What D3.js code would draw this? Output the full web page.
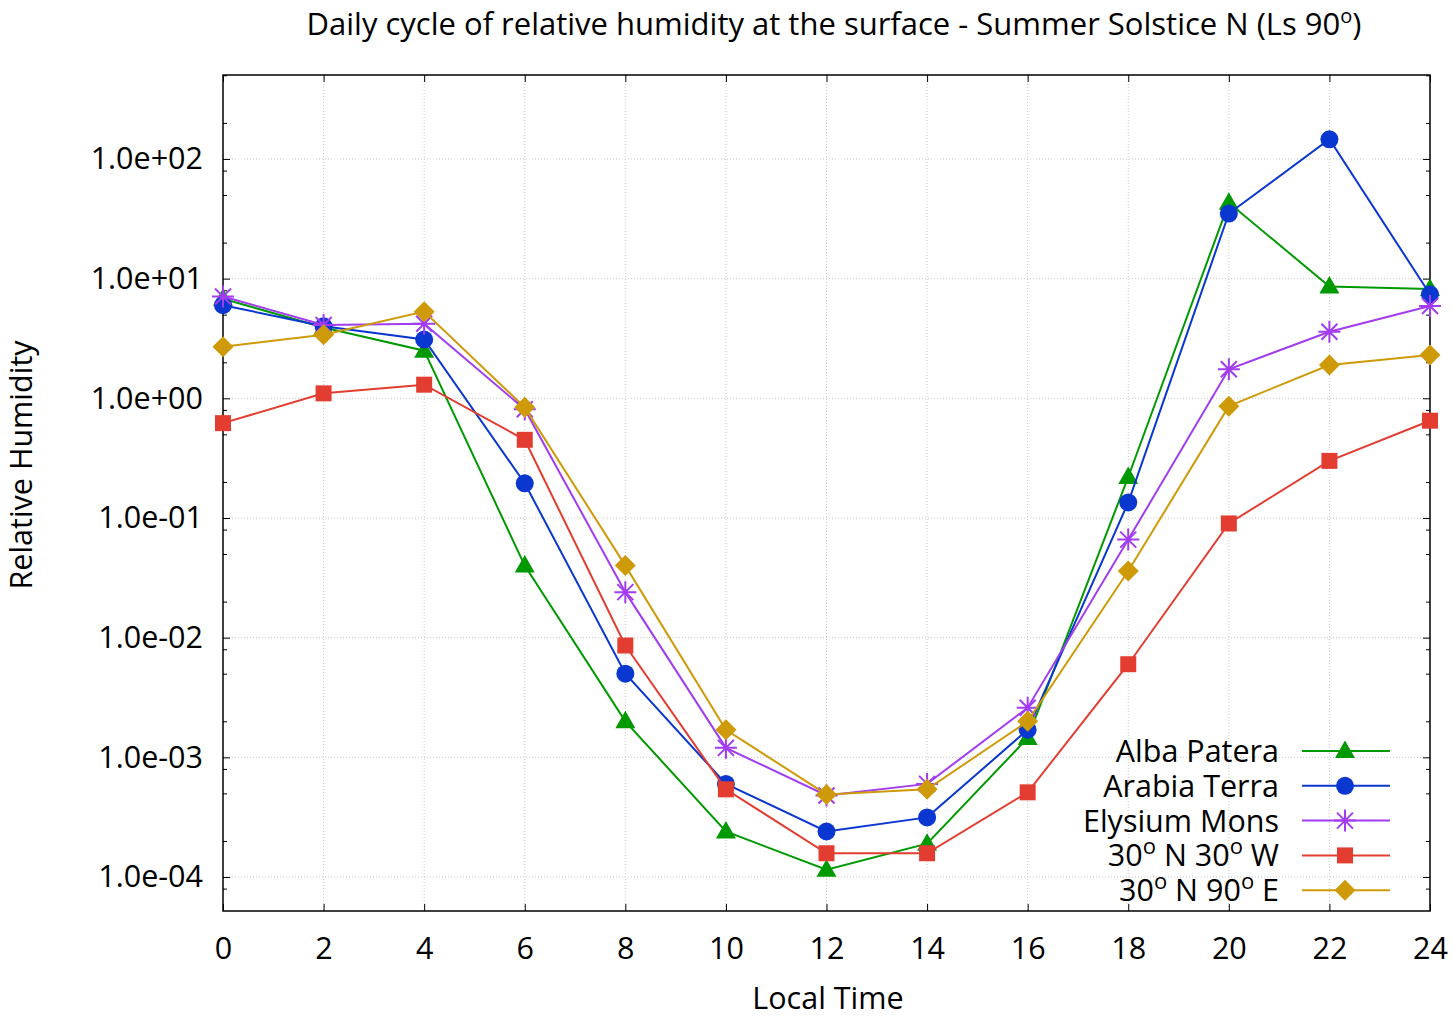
<!DOCTYPE html>
<html>
<head>
<meta charset="utf-8">
<script src="https://cdn.jsdelivr.net/npm/d3@7"></script>
<style>
  body { margin: 0; background: #fff; }
  svg { font-family: "Open Sans", "Noto Sans", sans-serif; }
  .grid line { stroke: #c8c8c8; stroke-width: 1; stroke-dasharray: 1,2; }
</style>
</head>
<body>
<svg id="chart" width="1453" height="1019"></svg>
<script>
// local time (hours)
var hours = [0, 2, 4, 6, 8, 10, 12, 14, 16, 18, 20, 22, 24];

// relative humidity per site
var albaPatera   = [6.8, 3.9, 2.5, 0.040, 0.0020, 2.4e-4, 1.15e-4, 1.9e-4, 1.45e-3, 0.22, 43, 8.6, 8.2];
var arabiaTerra  = [6.0, 4.0, 3.1, 0.195, 5.0e-3, 6.0e-4, 2.4e-4, 3.15e-4, 1.7e-3, 0.135, 35, 146, 7.4];
var elysiumMons  = [7.1, 4.1, 4.2, 0.81, 0.024, 1.2e-3, 4.8e-4, 6.0e-4, 2.6e-3, 0.066, 1.75, 3.6, 5.9];
var n30w30       = [0.62, 1.1, 1.3, 0.45, 8.6e-3, 5.4e-4, 1.58e-4, 1.58e-4, 5.1e-4, 6.0e-3, 0.09, 0.30, 0.65];
var n30e90       = [2.7, 3.4, 5.3, 0.84, 0.040, 1.7e-3, 4.9e-4, 5.4e-4, 2.0e-3, 0.036, 0.86, 1.9, 2.3];

var seriesNames  = ["Alba Patera", "Arabia Terra", "Elysium Mons", "30| N 30| W", "30| N 90| E"];
var seriesColors = ["#009a00", "#0a37cf", "#a23cf0", "#e23d30", "#cf9a08"];
var seriesShapes = ["triangle", "circle", "asterisk", "square", "diamond"];

var xTicks = [0, 2, 4, 6, 8, 10, 12, 14, 16, 18, 20, 22, 24];
var yTicks = [1e-4, 1e-3, 1e-2, 1e-1, 1e0, 1e1, 1e2];
var yMinor = [2, 5, 8];

var series = [albaPatera, arabiaTerra, elysiumMons, n30w30, n30e90].map(function (vals, i) {
  return {
    name: seriesNames[i], color: seriesColors[i], shape: seriesShapes[i],
    points: vals.map(function (v, j) { return { t: hours[j], v: v }; })
  };
});

var pL = 223, pR = 1430, pT = 75, pB = 911;
var svg = d3.select("#chart");

var x = d3.scaleLinear().domain([0, 24]).range([pL, pR]);
var y = d3.scaleLog().domain([5.2e-5, 503]).range([pB, pT]);

function sci(v) {
  var e = Math.round(Math.log10(v));
  var s = e < 0 ? "-" : "+";
  var a = Math.abs(e);
  return "1.0e" + s + (a < 10 ? "0" : "") + a;
}

// grid
var grid = svg.append("g").attr("class", "grid");
grid.selectAll(".gx").data(xTicks.slice(1, -1)).enter().append("line")
  .attr("x1", function (d) { return x(d); }).attr("x2", function (d) { return x(d); })
  .attr("y1", pT).attr("y2", pB);
grid.selectAll(".gy").data(yTicks).enter().append("line")
  .attr("x1", pL).attr("x2", pR)
  .attr("y1", function (d) { return y(d); }).attr("y2", function (d) { return y(d); });

// axes (ticks drawn inward, mirrored)
var fs = 30.5;
svg.append("g").attr("transform", "translate(0," + pB + ")")
  .call(d3.axisBottom(x).tickValues(xTicks).tickSize(-7).tickPadding(26).tickFormat(d3.format("d")))
  .call(function (g) { g.select(".domain").remove(); g.selectAll("text").attr("font-size", fs).attr("font-family", "Open Sans"); });
svg.append("g").attr("transform", "translate(0," + pT + ")")
  .call(d3.axisTop(x).tickValues(xTicks).tickSize(-7).tickFormat(""))
  .call(function (g) { g.select(".domain").remove(); });

var minorVals = [];
yTicks.concat([1e3]).forEach(function (d) {
  yMinor.forEach(function (m) {
    var v = d / 10 * m;
    if (v >= y.domain()[0] && v <= y.domain()[1]) minorVals.push(v);
  });
});

svg.append("g").attr("transform", "translate(" + pL + ",0)")
  .call(d3.axisLeft(y).tickValues(yTicks).tickSize(-7).tickPadding(20).tickFormat(sci))
  .call(function (g) { g.select(".domain").remove(); g.selectAll("text").attr("font-size", fs).attr("font-family", "Open Sans"); });
svg.append("g").attr("transform", "translate(" + pL + ",0)")
  .call(d3.axisLeft(y).tickValues(minorVals).tickSize(-4).tickFormat(""))
  .call(function (g) { g.select(".domain").remove(); });
svg.append("g").attr("transform", "translate(" + pR + ",0)")
  .call(d3.axisRight(y).tickValues(yTicks).tickSize(-7).tickFormat(""))
  .call(function (g) { g.select(".domain").remove(); });
svg.append("g").attr("transform", "translate(" + pR + ",0)")
  .call(d3.axisRight(y).tickValues(minorVals).tickSize(-4).tickFormat(""))
  .call(function (g) { g.select(".domain").remove(); });

svg.append("rect").attr("x", pL).attr("y", pT)
  .attr("width", pR - pL).attr("height", pB - pT)
  .attr("fill", "none").attr("stroke", "#000").attr("stroke-width", 1.5);

// marker paths
function markerPath(shape) {
  switch (shape) {
    case "triangle": return "M0,-10.5L10,7L-10,7Z";
    case "circle": return "M9,0A9,9 0 1,1 -9,0A9,9 0 1,1 9,0Z";
    case "square": return "M-8,-8H8V8H-8Z";
    case "diamond": return "M0,-10.5L10.5,0L0,10.5L-10.5,0Z";
    case "asterisk": return "M0,-11V11M-11,0H11M-8,-8L8,8M-8,8L8,-8";
  }
}
function drawMarker(sel, s) {
  sel.attr("d", markerPath(s.shape));
  if (s.shape === "asterisk") sel.attr("fill", "none").attr("stroke", s.color).attr("stroke-width", 2);
  else sel.attr("fill", s.color).attr("stroke", "none");
}

var line = d3.line().x(function (d) { return x(d.t); }).y(function (d) { return y(d.v); });

series.forEach(function (s) {
  var g = svg.append("g");
  g.append("path").datum(s.points).attr("d", line)
    .attr("fill", "none").attr("stroke", s.color).attr("stroke-width", 2);
  g.selectAll("path.pt").data(s.points).enter().append("path").attr("class", "pt")
    .attr("transform", function (d) { return "translate(" + x(d.t) + "," + y(d.v) + ")"; })
    .each(function () { drawMarker(d3.select(this), s); });
});

// text with superscript degree marks ("|" -> superscript o)
function richText(sel, str, supSize, rise) {
  str.split("|").forEach(function (part, i) {
    if (i > 0) {
      sel.append("tspan").attr("dy", -rise).attr("font-size", supSize).text("o");
      sel.append("tspan").attr("dy", rise).text(part);
    } else sel.append("tspan").text(part);
  });
}

// legend
var legend = svg.append("g").attr("font-size", fs);
series.forEach(function (s, i) {
  var ly = 751 + i * 34.8;
  var t = legend.append("text").attr("x", 1279).attr("y", ly).attr("dy", "0.36em")
    .attr("text-anchor", "end");
  richText(t, s.name, 22, 12);
  legend.append("line").attr("x1", 1302).attr("x2", 1390).attr("y1", ly).attr("y2", ly)
    .attr("stroke", s.color).attr("stroke-width", 2);
  legend.append("path").attr("transform", "translate(1345," + ly + ")")
    .call(drawMarker, s);
});

// title & axis labels
var title = svg.append("text").attr("x", 834).attr("y", 35)
  .attr("text-anchor", "middle").attr("font-size", 31);
richText(title, "Daily cycle of relative humidity at the surface - Summer Solstice N (Ls 90|)", 20, 12);

svg.append("text").attr("x", 828).attr("y", 1009).attr("text-anchor", "middle")
  .attr("font-size", fs).text("Local Time");
svg.append("text").attr("transform", "translate(32,465) rotate(-90)")
  .attr("text-anchor", "middle").attr("font-size", fs).text("Relative Humidity");
</script>
</body>
</html>
